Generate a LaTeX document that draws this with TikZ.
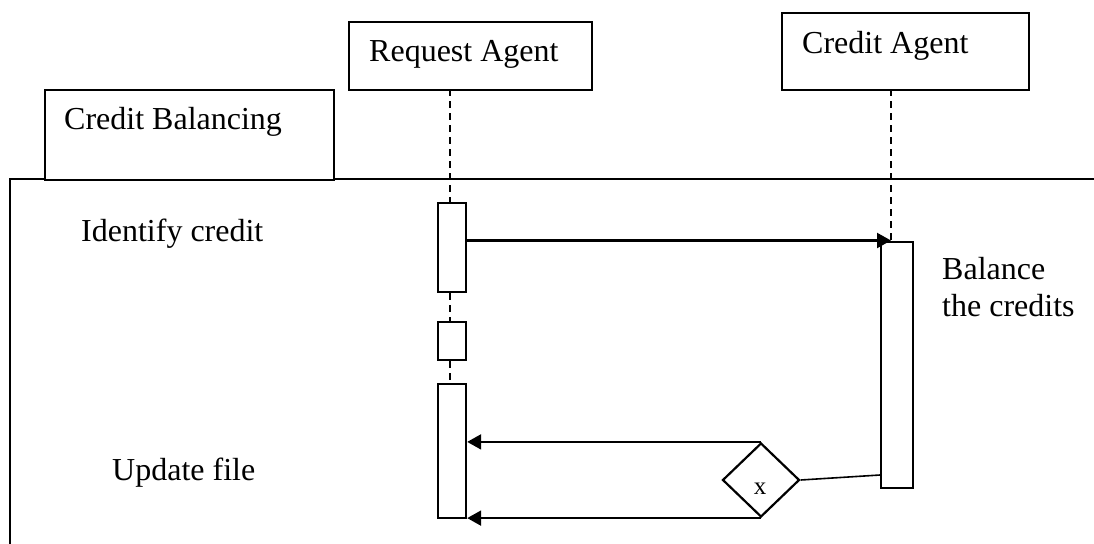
\documentclass[tikz,border=0pt]{standalone}
\usepackage{fontspec}
\setmainfont{Liberation Serif}
\usetikzlibrary{arrows.meta,shapes.geometric}
\tikzset{
  boxshape/.style={draw, line width=2.2pt, anchor=north west, inner sep=0pt, fill=white},
  lbl/.style={anchor=base west, inner sep=0pt, font=\fontsize{32pt}{38pt}\selectfont},
  lifeline/.style={line width=1.8pt, dash pattern=on 7pt off 5pt},
  msg/.style={line width=2.2pt, -{Triangle[length=14pt,width=15pt]}},
  frameline/.style={line width=2.2pt},
}
\begin{document}
\begin{tikzpicture}[x=1pt,y=-1pt]
\useasboundingbox (0,0) rectangle (1094,543);
% frame
\coordinate (fbl) at (10,545);
\coordinate (ftl) at (10,179);
\coordinate (ftr) at (1096,179);
\draw[frameline] (fbl) -- (ftl) -- (ftr);
% header boxes
\node[boxshape, minimum width=289pt, minimum height=90pt] (cb) at (44,89) {};
\node[boxshape, minimum width=243pt, minimum height=68pt] (ra) at (348,21) {};
\node[boxshape, minimum width=247pt, minimum height=77pt] (ca) at (781,12) {};
\node[lbl] (cbt) at (64,129) {Credit Balancing};
\node[lbl] (rat) at (369,61) {Request Agent};
\node[lbl] (cat) at (802,53) {Credit Agent};
% request agent lifeline and activations
\coordinate (ral) at (450,89);
\node[boxshape, minimum width=28pt, minimum height=89pt] (act1) at (437,202) {};
\node[boxshape, minimum width=28pt, minimum height=38pt] (act2) at (437,321) {};
\node[boxshape, minimum width=28pt, minimum height=134pt] (act3) at (437,383) {};
\draw[lifeline] (ral) -- (ral |- act1.north);
\draw[lifeline] (ral |- act1.south) -- (ral |- act2.north);
\draw[lifeline] (ral |- act2.south) -- (ral |- act3.north);
% credit agent lifeline and activation
\coordinate (cal) at (891,89);
\node[boxshape, minimum width=32pt, minimum height=246pt] (cact) at (880,241) {};
\draw[lifeline] (cal) -- (cal |- cact.north);
% message identify credit
\coordinate (m1) at (891,240.5);
\draw[msg] (act1.east |- m1) -- (m1);
% decision diamond
\node[draw, diamond, line width=2.2pt, minimum width=77pt, minimum height=74pt, inner sep=0pt] (dia) at (761,480) {};
\node[inner sep=0pt, font=\fontsize{25pt}{30pt}\selectfont] (xl) at (760,488.5) {x};
\coordinate (j) at (880,475);
\draw[line width=1.6pt] (dia.east) -- (j);
\draw[msg] (dia.north) -- (dia.north -| act3.east);
\draw[msg] (dia.south) -- (dia.south -| act3.east);
% labels
\node[lbl] (idc) at (81,241) {Identify credit};
\node[lbl] (bal1) at (942,279) {Balance};
\node[lbl] (bal2) at (942,316) {the credits};
\node[lbl] (upd) at (112,480) {Update file};
\end{tikzpicture}
\end{document}
